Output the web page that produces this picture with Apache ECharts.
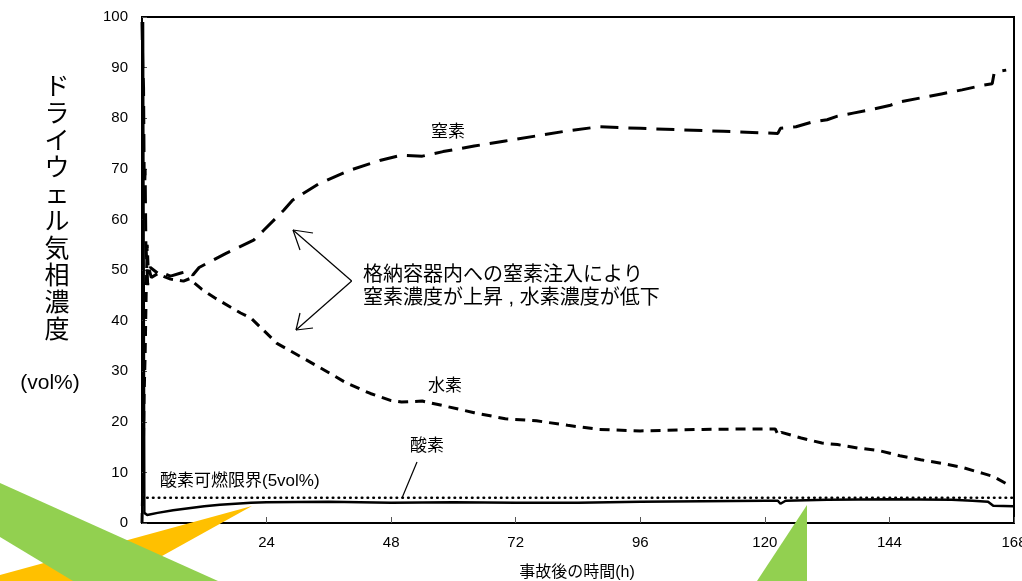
<!DOCTYPE html>
<html>
<head>
<meta charset="utf-8">
<script src="https://cdn.jsdelivr.net/npm/echarts@6/dist/echarts.min.js"></script>
<style>html,body{margin:0;padding:0;background:#fff;}#c{width:1022px;height:581px;}</style>
</head>
<body>
<div id="c"></div>
<script>
// ---- data (hours after accident, vol%) ----
const xTicks = [0, 24, 48, 72, 96, 120, 144, 168];
const nitrogen = [[0,99],[0.15,90],[0.3,86],[0.45,64],[0.6,70],[0.75,55],[0.9,52],[1.1,47],[1.4,50],[1.8,48.5],[3.5,49.6],[5.5,48.8],[7.5,49.4],[9,49.8],[9.8,49.0],[11,50.5],[16,53.2],[21.5,55.9],[23.5,57.9],[27.3,61.8],[29,63.8],[34,67],[40,69.7],[46,71.7],[50,72.7],[54,72.5],[58,73.4],[64,74.5],[70,75.5],[76,76.5],[82,77.5],[88,78.3],[96,78.0],[104,77.7],[112,77.4],[120,77.1],[122.5,77.0],[123,78],[126,78.3],[129,79.2],[132,79.7],[134,80.4],[137,81],[140,81.6],[144,82.5],[146,83.2],[150,84],[154,84.8],[158,85.6],[162,86.5],[163.8,86.8],[164.2,89.1],[166.5,89.5]];
const hydrogen = [[0,0],[0.2,10],[0.4,25],[0.6,33],[0.8,45],[1.0,55],[1.2,50],[1.6,50.5],[3.5,49],[5.5,48.2],[8,47.8],[9.2,48.3],[10,47.5],[11.5,46.2],[14,44.5],[19,41.5],[21,40.5],[26,35.5],[30.5,32.9],[35,30.3],[39.5,27.6],[44,25.6],[48,24.2],[50,23.9],[54,24.1],[58,23.2],[64,21.8],[70,20.6],[76,20.2],[82,19.3],[88,18.5],[96,18.2],[108,18.5],[120,18.6],[122,18.6],[122.6,17.3],[123.2,17.9],[127,16.8],[131,15.8],[134,15.5],[138,14.8],[142,14.3],[146,13.3],[150,12.5],[154,11.8],[158,11.0],[162,9.8],[164,9.2],[167,7.5]];
const oxygen = [[0.2,99],[0.45,2],[1,1.6],[3,2.0],[6,2.5],[9,2.9],[12,3.3],[15,3.6],[18,3.8],[21,4.0],[24,4.1],[36,4.2],[48,4.0],[60,4.1],[72,4.0],[84,4.0],[96,4.2],[108,4.3],[120,4.4],[122.5,4.4],[123,3.8],[124,4.4],[132,4.6],[144,4.7],[156,4.6],[160,4.4],[163,4.2],[164,3.4],[168,3.3]];
const limitLine = [[1,5],[168,5]];
const yTitle = 'ドライウェル気相濃度';
const yUnit = '(vol%)';
const xTitle = '事故後の時間(h)';

const JP = '"Liberation Sans", Arial, "Noto Sans CJK JP"';
const chart = echarts.init(document.getElementById('c'), null, {renderer: 'canvas'});
const txt = (x, y, s, size, align) => ({type:'text', x:x, y:y, z:50, style:{text:s, fontSize:size, fontFamily:JP, fill:'#000', align:align||'center', verticalAlign:'middle'}});
const ln = (x1,y1,x2,y2) => ({type:'line', z:50, shape:{x1:x1,y1:y1,x2:x2,y2:y2}, style:{stroke:'#000', lineWidth:1.2}});

chart.setOption({
  animation: false,
  backgroundColor: '#fff',
  grid: {left: 142, right: 8, top: 17, bottom: 58, outerBoundsMode: 'none', containLabel: false,
         show: true, borderColor: '#000', borderWidth: 2, backgroundColor: 'transparent'},
  xAxis: {
    type: 'value', min: 0, max: 168, interval: 24,
    axisLine: {lineStyle: {color: '#000', width: 2}},
    axisTick: {inside: true, length: 6, lineStyle: {color: '#555', width: 1}},
    axisLabel: {color: '#000', fontSize: 15, fontFamily: JP, margin: 12},
    splitLine: {show: false}
  },
  yAxis: {
    type: 'value', min: 0, max: 100, interval: 10,
    axisLine: {lineStyle: {color: '#000', width: 2}},
    axisTick: {inside: true, length: 5, lineStyle: {color: '#555', width: 1}},
    axisLabel: {color: '#000', fontSize: 15, fontFamily: JP, margin: 14},
    splitLine: {show: false}
  },
  series: [
    {name: '窒素', type: 'line', data: nitrogen, showSymbol: false, smooth: false,
     lineStyle: {color: '#000', width: 3, type: [18, 10]}},
    {name: '水素', type: 'line', data: hydrogen, showSymbol: false,
     lineStyle: {color: '#000', width: 3, type: [10, 7]}},
    {name: '酸素', type: 'line', data: oxygen, showSymbol: false,
     lineStyle: {color: '#000', width: 2.5, type: 'solid'}},
    {name: '酸素可燃限界', type: 'line', data: limitLine, showSymbol: false,
     lineStyle: {color: '#000', width: 2.6, type: [0.5, 5.3], cap: 'round'}}
  ],
  graphic: [
    {type:'text', x:57, y:75, z:50, style:{text: yTitle.split('').join('\n'), fontSize:25, lineHeight:27, fontFamily:JP, fill:'#000', align:'center', verticalAlign:'top'}},
    txt(50, 383, yUnit, 21),
    txt(577, 573, xTitle, 16),
    txt(448, 132, '窒素', 17),
    txt(445, 386, '水素', 17),
    txt(427, 446, '酸素', 17),
    txt(160, 481, '酸素可燃限界(5vol%)', 17, 'left'),
    txt(363, 275, '格納容器内への窒素注入により', 20, 'left'),
    txt(363, 298, '窒素濃度が上昇 , 水素濃度が低下', 20, 'left'),
    ln(351.7, 281, 293, 230), ln(293, 230, 313, 233), ln(293, 230, 300, 250),
    ln(351.7, 281, 296, 330), ln(296, 330, 313, 328), ln(296, 330, 300, 313),
    ln(417, 462, 402, 498),
    {type:'polygon', z:100, shape:{points:[[252,506],[0,575],[0,581],[117,581]]}, style:{fill:'#FFC000'}},
    {type:'polygon', z:101, shape:{points:[[0,483],[218,581],[73,581],[0,537]]}, style:{fill:'#92D050'}},
    {type:'polygon', z:101, shape:{points:[[807,505],[807,581],[757,581]]}, style:{fill:'#92D050'}}
  ]
});
</script>
</body>
</html>
